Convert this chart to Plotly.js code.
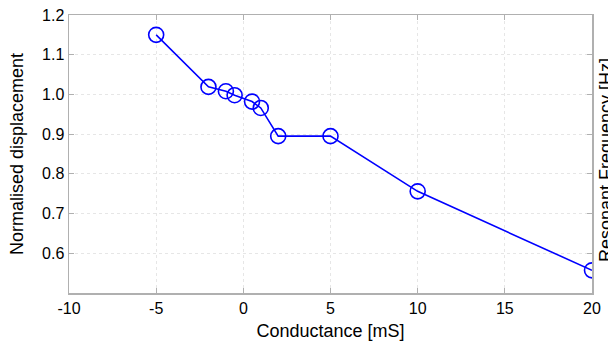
<!DOCTYPE html>
<html>
<head>
<meta charset="utf-8">
<script src="https://cdn.plot.ly/plotly-3.0.1.min.js"></script>
<style>html,body{margin:0;padding:0;background:#fff;}#chart{width:608px;height:341px;}</style>
</head>
<body>
<div id="chart"></div>
<script>
const conductance = [-5, -2, -1, -0.5, 0.5, 1, 2, 5, 10, 20];
const displacement = [1.15, 1.019, 1.008, 0.998, 0.982, 0.966, 0.895, 0.895, 0.756, 0.557];
const xTicks = [-10, -5, 0, 5, 10, 15, 20];
const yTicks = [0.6, 0.7, 0.8, 0.9, 1.0, 1.1, 1.2];

const font = {family: 'Liberation Sans, Arial, sans-serif', color: '#000'};
const trace = {
  x: conductance, y: displacement, type: 'scatter', mode: 'lines+markers',
  line: {color: '#0000ff', width: 1.6},
  marker: {symbol: 'circle-open', size: 15, color: '#0000ff', line: {width: 1.6, color: '#0000ff'}},
  cliponaxis: true, showlegend: false
};

const layout = {
  width: 608, height: 341,
  margin: {l: 69, r: 16, t: 15, b: 48},
  paper_bgcolor: '#fff', plot_bgcolor: '#fff',
  font: Object.assign({size: 16}, font),
  xaxis: {
    range: [-10, 20], tickvals: xTicks, ticktext: xTicks.map(String),
    showgrid: true, gridcolor: '#e6e6e6', griddash: 'dot', gridwidth: 1,
    showline: true, linecolor: '#b0b0b0', linewidth: 1.5, mirror: 'ticks',
    ticks: 'inside', ticklen: 5, tickcolor: '#b0b0b0', zeroline: false,
    tickfont: Object.assign({size: 16}, font),
    title: {text: 'Conductance [mS]', font: Object.assign({size: 18}, font)},
    automargin: false
  },
  yaxis: {
    range: [0.5, 1.2], tickvals: yTicks, ticktext: yTicks.map(v => v.toFixed(1)),
    showgrid: true, gridcolor: '#e6e6e6', griddash: 'dot', gridwidth: 1,
    showline: true, linecolor: '#b0b0b0', linewidth: 1.5, mirror: 'ticks',
    ticks: 'inside', ticklen: 5, tickcolor: '#b0b0b0', zeroline: false,
    tickfont: Object.assign({size: 16}, font),
    title: {text: 'Normalised displacement', font: Object.assign({size: 18}, font)},
    automargin: false
  },
  annotations: [{
    text: 'Resonant Frequency [Hz]', xref: 'paper', yref: 'paper', x: 1, y: 0.5,
    xanchor: 'left', yanchor: 'middle', xshift: 2, yshift: -6, textangle: -90,
    showarrow: false, font: Object.assign({size: 18}, font)
  }]
};
Plotly.newPlot('chart', [trace], layout, {staticPlot: true});
</script>
</body>
</html>
